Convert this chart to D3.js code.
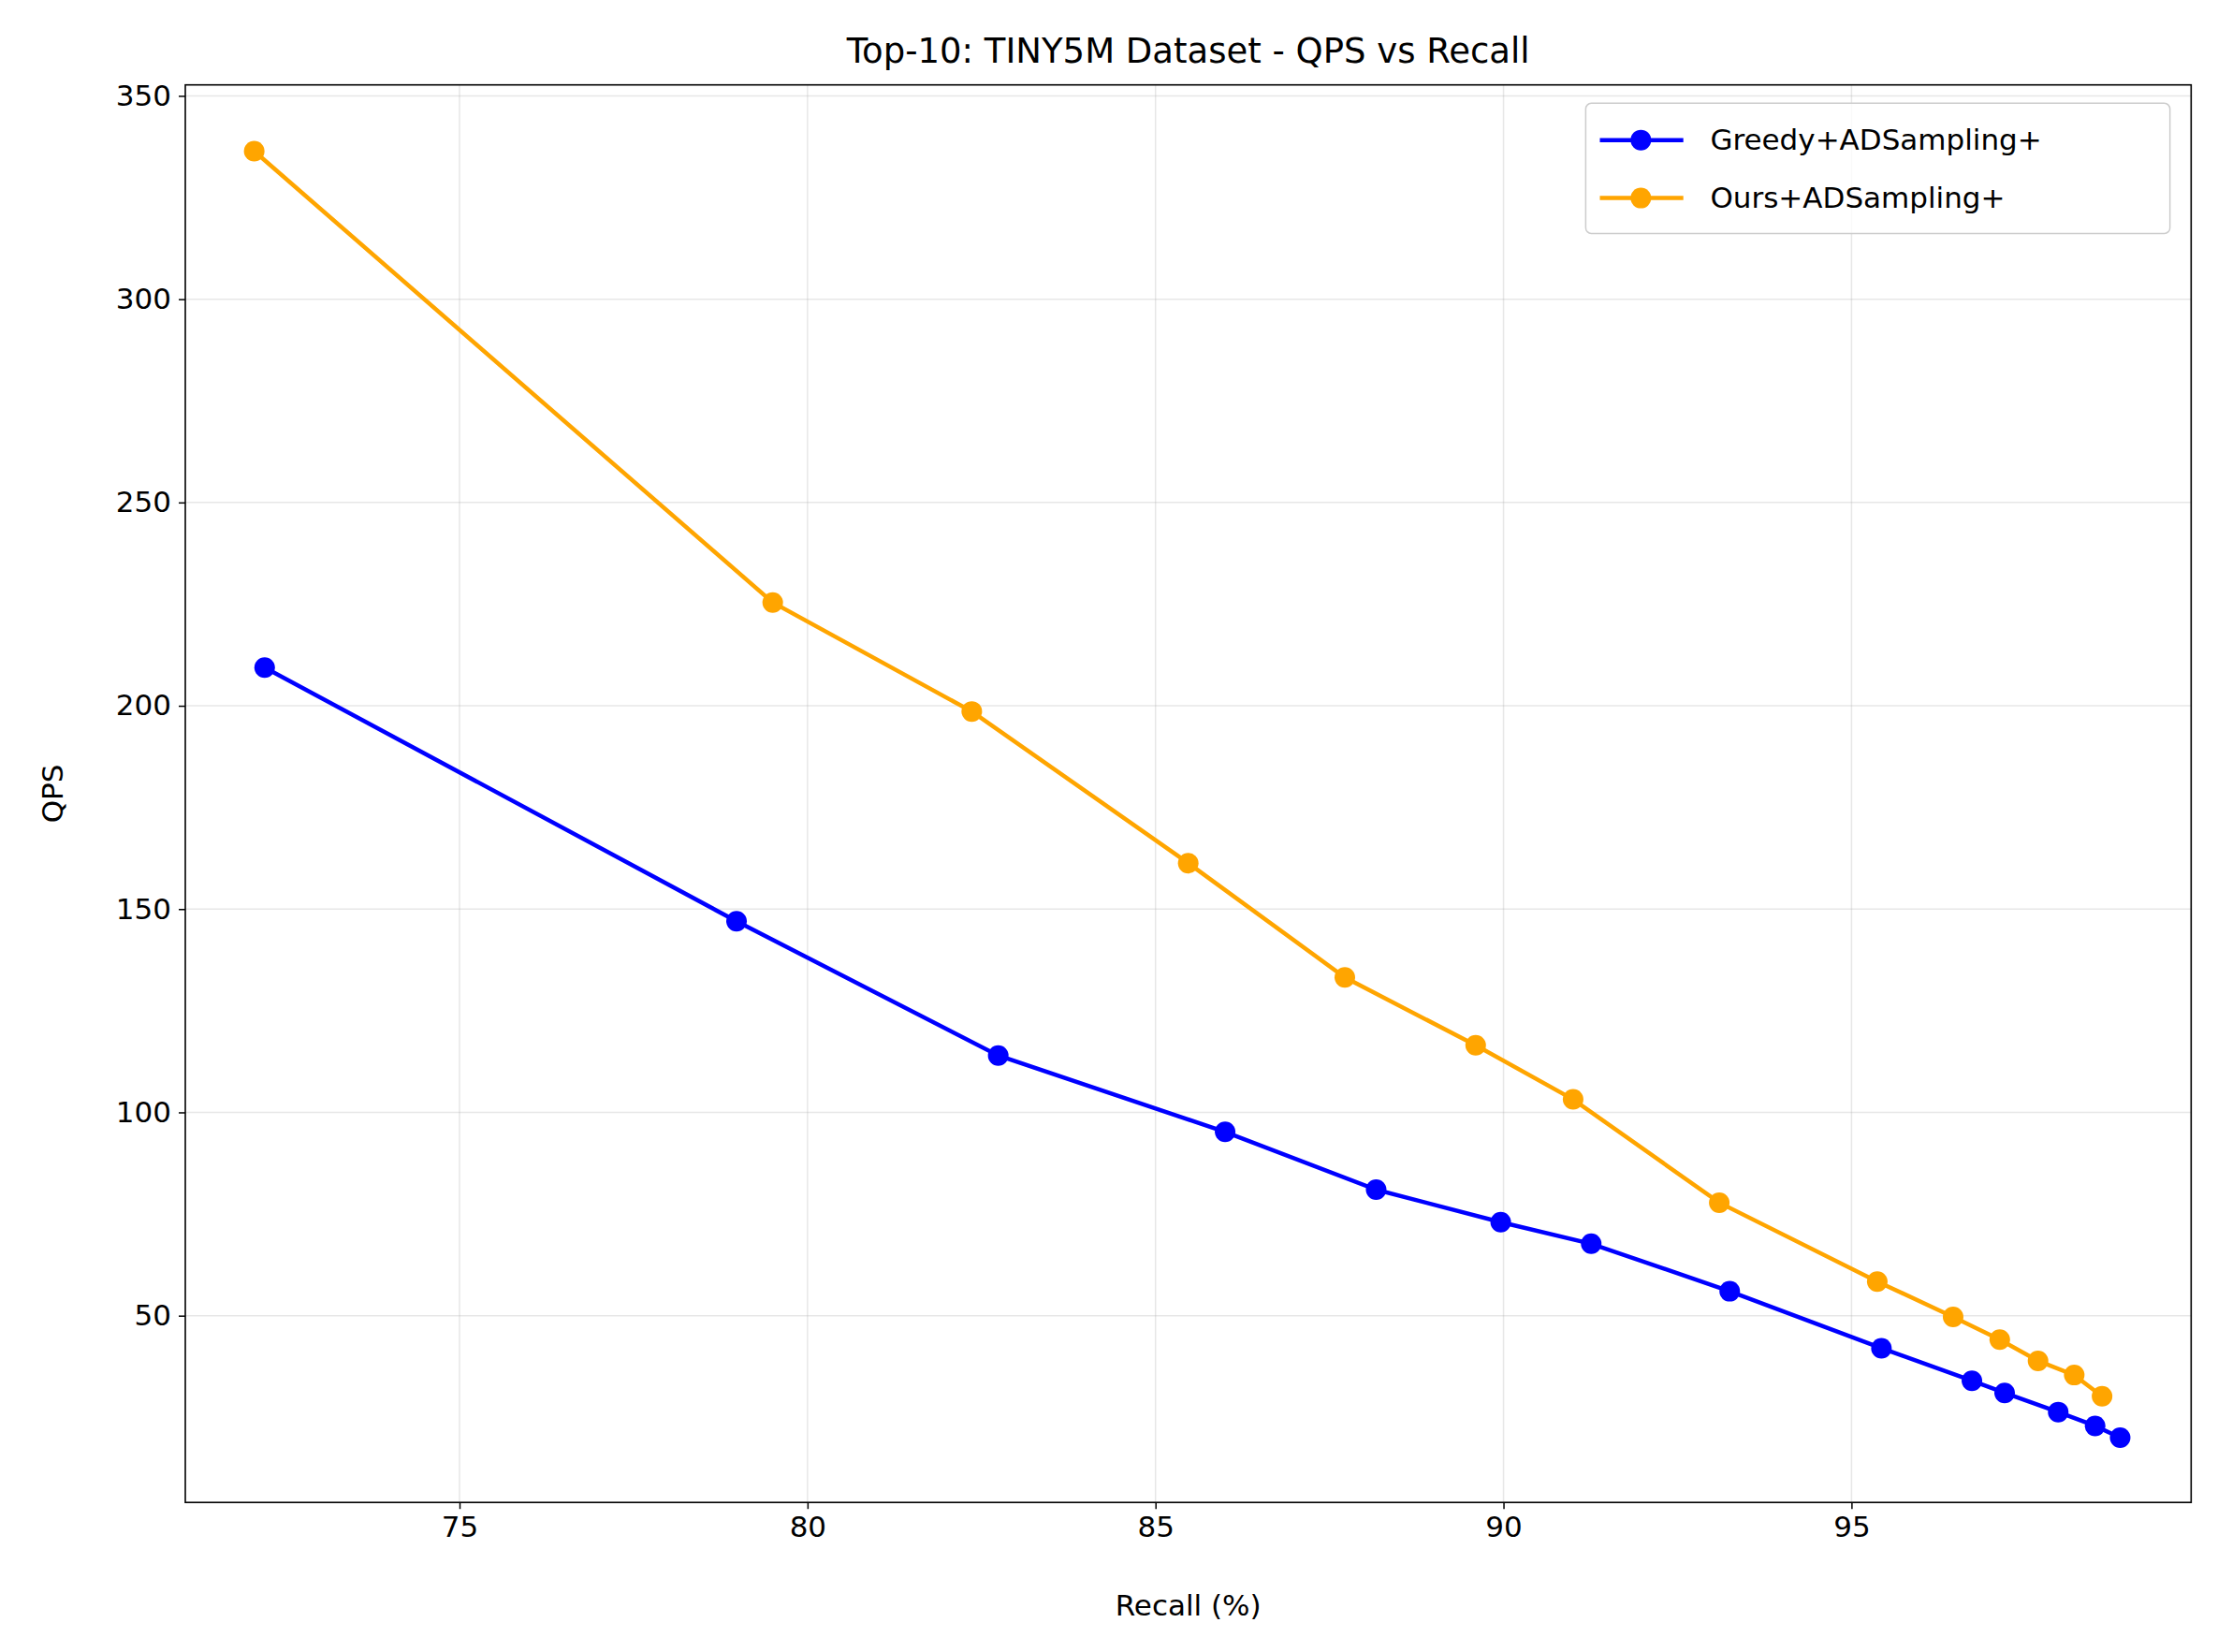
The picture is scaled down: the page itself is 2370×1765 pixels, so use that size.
<!DOCTYPE html>
<html><head><meta charset="utf-8">
<script src="https://cdn.jsdelivr.net/npm/d3@7"></script>
<style>body{margin:0;background:#fff}text{font-family:"DejaVu Sans",sans-serif}</style>
</head><body>
<script>
const greedyRecall=[72.2,78.98,82.74,86.0,88.17,89.96,91.26,93.25,95.43,96.73,97.2,97.97,98.5,98.86];
const greedyQPS=[209.4,147,114,95.2,81,73,67.7,56,42,34,31,26.3,22.9,20];
const oursRecall=[72.05,79.5,82.36,85.47,87.72,89.6,91.0,93.1,95.37,96.46,97.13,97.68,98.2,98.6];
const oursQPS=[336.4,225.4,198.6,161.3,133.2,116.5,103.2,77.8,58.4,49.7,44.1,38.9,35.4,30.2];
const xTicks=[75,80,85,90,95];
const yTicks=[50,100,150,200,250,300,350];
const seriesNames=["Greedy+ADSampling+","Ours+ADSampling+"];
const colors=["#0000ff","#ffa500"];

const W=2370,H=1765,s=1.5115;
const L=131*s,R=1549*s,T=60*s,B=1062*s;
const svg=d3.select("body").append("svg").attr("width",W).attr("height",H);
const x=d3.scaleLinear().domain([71.06,99.88]).range([L,R]);
const y=d3.scaleLinear().domain([4.07,352.7]).range([B,T]);
const g=svg.append("g");
g.selectAll(".gx").data(xTicks).enter().append("line").attr("x1",d=>x(d)).attr("x2",d=>x(d)).attr("y1",T).attr("y2",B).attr("stroke","#b0b0b0").attr("stroke-opacity",0.3).attr("stroke-width",1.5);
g.selectAll(".gy").data(yTicks).enter().append("line").attr("y1",d=>y(d)).attr("y2",d=>y(d)).attr("x1",L).attr("x2",R).attr("stroke","#b0b0b0").attr("stroke-opacity",0.3).attr("stroke-width",1.5);
const fs=31;
const xa=svg.append("g").attr("transform",`translate(0,${B})`).call(d3.axisBottom(x).tickValues(xTicks).tickSize(7).tickPadding(8).tickFormat(d3.format("d")));
const ya=svg.append("g").attr("transform",`translate(${L},0)`).call(d3.axisLeft(y).tickValues(yTicks).tickSize(7).tickPadding(8).tickFormat(d3.format("d")));
[xa,ya].forEach(a=>{a.select(".domain").remove();a.selectAll("text").attr("font-size",fs).attr("font-family","DejaVu Sans").attr("fill","#000");a.selectAll("line").attr("stroke","#000").attr("stroke-width",1.5);});
svg.append("rect").attr("x",L).attr("y",T).attr("width",R-L).attr("height",B-T).attr("fill","none").attr("stroke","#000").attr("stroke-width",1.6);
const data=[[greedyRecall,greedyQPS],[oursRecall,oursQPS]];
data.forEach(([xs,ys],i)=>{
  const pts=xs.map((v,j)=>[v,ys[j]]);
  svg.append("path").datum(pts).attr("d",d3.line().x(d=>x(d[0])).y(d=>y(d[1]))).attr("fill","none").attr("stroke",colors[i]).attr("stroke-width",4.5);
  svg.selectAll(".m"+i).data(pts).enter().append("circle").attr("cx",d=>x(d[0])).attr("cy",d=>y(d[1])).attr("r",11).attr("fill",colors[i]);
});
svg.append("text").attr("x",(L+R)/2).attr("y",44*s).attr("text-anchor","middle").attr("font-size",37).text("Top-10: TINY5M Dataset - QPS vs Recall");
svg.append("text").attr("x",(L+R)/2).attr("y",1142*s).attr("text-anchor","middle").attr("font-size",fs).text("Recall (%)");
svg.append("text").attr("transform",`translate(${44*s},${(T+B)/2}) rotate(-90)`).attr("text-anchor","middle").attr("font-size",fs).text("QPS");
const lx=1121*s,ly=73*s,lw=(1534-1121)*s,lh=(165-73)*s;
svg.append("rect").attr("x",lx).attr("y",ly).attr("width",lw).attr("height",lh).attr("rx",6).attr("fill","#fff").attr("fill-opacity",0.8).attr("stroke","#ccc").attr("stroke-width",1.5);
seriesNames.forEach((n,i)=>{
  const yy=(99+i*41)*s;
  svg.append("line").attr("x1",1131*s).attr("x2",1190*s).attr("y1",yy).attr("y2",yy).attr("stroke",colors[i]).attr("stroke-width",4.5);
  svg.append("circle").attr("cx",1160*s).attr("cy",yy).attr("r",11).attr("fill",colors[i]);
  svg.append("text").attr("x",1209*s).attr("y",yy).attr("dy","0.35em").attr("font-size",fs).text(n);
});
</script>
</body></html>
